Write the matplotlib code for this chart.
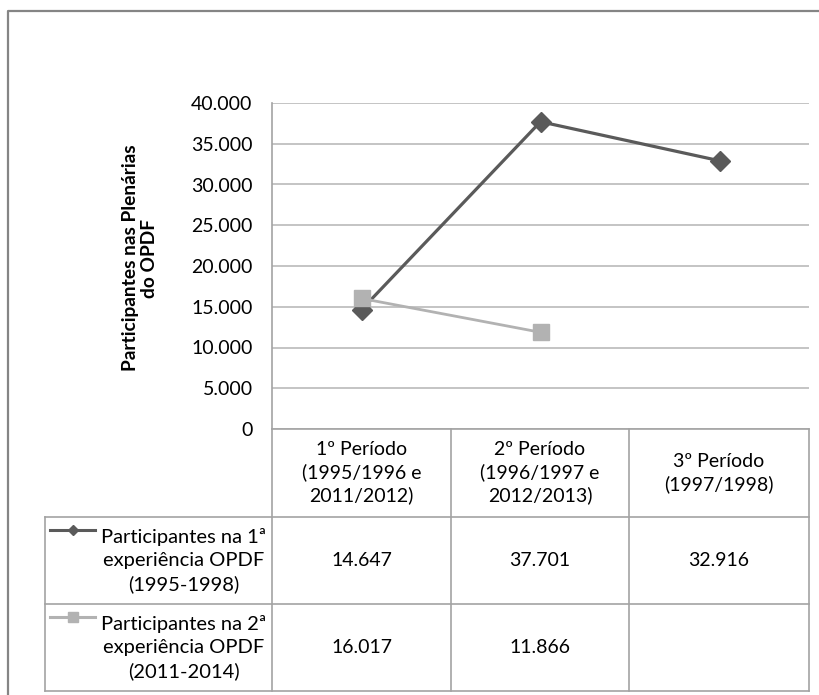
import numpy as np
import matplotlib
matplotlib.use("Agg")
import matplotlib.pyplot as plt
from matplotlib.lines import Line2D

plt.rcParams['font.family'] = ['Lato', 'DejaVu Sans']

# Data
categories = ["1º Período\n(1995/1996 e\n2011/2012)",
              "2º Período\n(1996/1997 e\n2012/2013)",
              "3º Período\n(1997/1998)"]
series_names = ["Participantes na 1ª\nexperiência OPDF\n(1995-1998)",
                "Participantes na 2ª\nexperiência OPDF\n(2011-2014)"]
exp1 = [14647, 37701, 32916]
exp2 = [16017, 11866, np.nan]
yticks = np.arange(0, 40001, 5000)

dark = "#5a5a5a"
light = "#b2b2b2"
gridc = "#bfbfbf"
tablec = "#a3a3a3"

W, H = 819, 695
fig = plt.figure(figsize=(W / 100, H / 100), dpi=100)


def fx(x):
    return x / W


def fy(y):
    return 1 - y / H


def fmt(v):
    return f"{v:,.0f}".replace(",", ".")


# pixel layout of the plot area and the data table
left, right, top, bottom = 272, 809, 103, 429
col_edges = [272, 451, 629, 809]
row_edges = [429, 517, 604, 691]
label_left = 45

ax = fig.add_axes([fx(left), fy(bottom), fx(right) - fx(left), fy(top) - fy(bottom)])
x = np.arange(len(exp1))
ax.plot(x, exp1, color=dark, lw=2.3, marker='D', ms=10, zorder=3)
ax.plot(x, exp2, color=light, lw=2.0, marker='s', ms=12, zorder=4)
ax.set_xlim(-0.5, 2.5)
ax.set_ylim(0, 40000)
ax.set_yticks(yticks)
ax.set_yticklabels([fmt(v) for v in yticks])
ax.set_xticks([])
ax.tick_params(axis='y', length=0, pad=14, labelsize=14)
ax.grid(axis='y', color=gridc, lw=1.3)
for s in ['top', 'right', 'bottom']:
    ax.spines[s].set_visible(False)
ax.spines['left'].set_color(tablec)
ax.spines['left'].set_linewidth(1.2)

# axis title, placed in figure pixels
fig.text(fx(140), fy(258), "Participantes nas Plenárias\ndo OPDF", rotation=90,
         ha='center', va='center', fontsize=13.8, fontweight='bold',
         linespacing=1.1, multialignment='center')


def hline(y, x0, x1):
    fig.add_artist(Line2D([fx(x0), fx(x1)], [fy(y), fy(y)], color=tablec, lw=1.2))


def vline(x, y0, y1):
    fig.add_artist(Line2D([fx(x), fx(x)], [fy(y0), fy(y1)], color=tablec, lw=1.2))


# table grid
hline(row_edges[0], col_edges[0], col_edges[-1])
for y in row_edges[1:]:
    hline(y, label_left, col_edges[-1])
for xe in col_edges:
    vline(xe, row_edges[0], row_edges[-1])
vline(label_left, row_edges[1], row_edges[-1])

# header cells
for i, cat in enumerate(categories):
    cx = (col_edges[i] + col_edges[i + 1]) / 2
    cy = (row_edges[0] + row_edges[1]) / 2
    fig.text(fx(cx), fy(cy), cat, ha='center', va='center', fontsize=14,
             linespacing=1.35, multialignment='center')

# series rows with legend keys
styles = [(dark, 'D', 5.5), (light, 's', 7.5)]
for r, (name, vals) in enumerate(zip(series_names, [exp1, exp2])):
    cy = (row_edges[r + 1] + row_edges[r + 2]) / 2
    fig.text(fx(184), fy(cy), name, ha='center', va='center', fontsize=14.5,
             linespacing=1.4, multialignment='center')
    color, mk, ms = styles[r]
    ky = cy - 31
    fig.add_artist(Line2D([fx(50), fx(95)], [fy(ky), fy(ky)], color=color, lw=2.2))
    fig.add_artist(Line2D([fx(72.5)], [fy(ky)], color=color, marker=mk, ms=ms, lw=0))
    for i, v in enumerate(vals):
        if np.isnan(v):
            continue
        cx = (col_edges[i] + col_edges[i + 1]) / 2
        fig.text(fx(cx), fy(cy), fmt(v), ha='center', va='center', fontsize=14)

# outer chart frame
fig.add_artist(Line2D([fx(7.5), fx(7.5), fx(W)], [fy(H), fy(11), fy(11)],
                      color="#858585", lw=1.6))

fig.savefig("out.png", dpi=100)
